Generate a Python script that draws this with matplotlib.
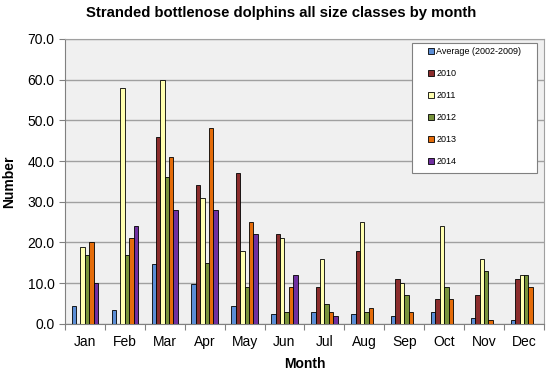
import matplotlib.pyplot as plt
from matplotlib.patches import Rectangle
import numpy as np

plt.rcParams['font.family'] = ['Liberation Sans', 'DejaVu Sans']

months = ["Jan", "Feb", "Mar", "Apr", "May", "Jun",
          "Jul", "Aug", "Sep", "Oct", "Nov", "Dec"]
series_names = ["Average (2002-2009)", "2010", "2011", "2012", "2013", "2014"]
avg = [4.3, 3.5, 14.6, 9.7, 4.3, 2.5, 3.0, 2.5, 2.0, 3.0, 1.5, 1.0]
y2010 = [0, 0, 46, 34, 37, 22, 9, 18, 11, 6, 7, 11]
y2011 = [19, 58, 60, 31, 18, 21, 16, 25, 10, 24, 16, 12]
y2012 = [17, 17, 36, 15, 9, 3, 5, 3, 7, 9, 13, 12]
y2013 = [20, 21, 41, 48, 25, 9, 3, 4, 3, 6, 1, 9]
y2014 = [10, 24, 28, 28, 22, 12, 2, 0, 0, 0, 0, 0]
colors = ["#5b8ed6", "#8c2d2d", "#ffffb0", "#77933c", "#e46c0a", "#7030a0"]

data = [avg, y2010, y2011, y2012, y2013, y2014]

fig = plt.figure(figsize=(5.5, 3.74), dpi=100)
ax = fig.add_axes([0.118, 0.134, 0.871, 0.762])
ax.set_facecolor("#f0f0f0")

x = np.arange(len(months))
w = 0.11
for i, (vals, name, c) in enumerate(zip(data, series_names, colors)):
    ax.bar(x + (i - 2.5) * w, vals, width=w, color=c, edgecolor="black",
           linewidth=0.6, label=name, zorder=3)

ax.set_xlim(-0.5, 11.5)
ax.set_ylim(0, 70)
ax.set_yticks(np.arange(0, 71, 10))
ax.set_yticklabels([f"{v:.1f}" for v in np.arange(0, 71, 10)], fontsize=10)
ax.yaxis.grid(True, color="#a0a0a0", linewidth=1.0, zorder=0)

ax.set_xticks(np.arange(-0.5, 12, 1))
ax.set_xticklabels([])
ax.set_xticks(x, minor=True)
ax.set_xticklabels(months, minor=True, fontsize=10)
ax.tick_params(axis="x", which="minor", length=0, pad=8)
ax.tick_params(axis="x", which="major", length=4, color="#808080")
ax.tick_params(axis="y", length=4, color="#808080")

for s in ["top", "right"]:
    ax.spines[s].set_color("#a0a0a0")
for s in ["left", "bottom"]:
    ax.spines[s].set_color("#808080")

ax.set_xlabel("Month", fontsize=10, fontweight="bold", labelpad=6)
ax.set_ylabel("Number", fontsize=10, fontweight="bold", labelpad=8)
fig.suptitle("Stranded bottlenose dolphins all size classes by month",
             fontsize=10.7, fontweight="bold", x=0.511, y=0.985)

# legend box drawn separately, legend itself frameless
box = Rectangle((412 / 550, 1 - 173 / 374), 125 / 550, 130 / 374,
                transform=fig.transFigure, facecolor="white",
                edgecolor="#808080", linewidth=0.8, zorder=4)
fig.patches.append(box)
leg = fig.legend(loc="upper left", bbox_to_anchor=(428 / 550, 1 - 47 / 374),
                 fontsize=6.5, handlelength=0.7, handleheight=0.7,
                 handletextpad=0.2, labelspacing=1.45, borderpad=0,
                 frameon=False, borderaxespad=0)
leg.set_zorder(5)

fig.savefig("out.png", dpi=100)
